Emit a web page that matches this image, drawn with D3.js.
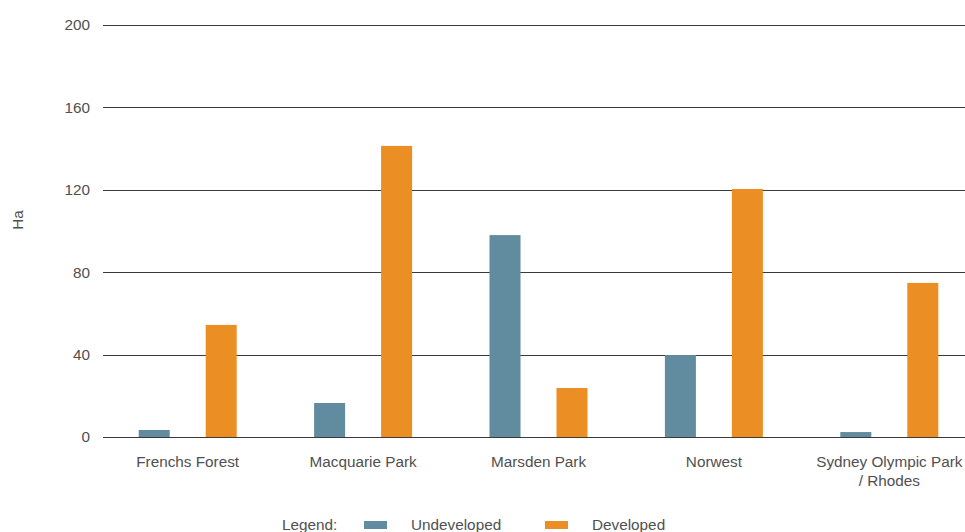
<!DOCTYPE html>
<html>
<head>
<meta charset="utf-8">
<script src="https://cdn.jsdelivr.net/npm/d3@7"></script>
<style>
  html, body { margin: 0; padding: 0; background: #fff; }
  svg { display: block; font-family: "Liberation Sans", Arial, sans-serif; }
</style>
</head>
<body>
<svg id="chart" width="965" height="532"></svg>
<script>
// Land area (hectares) by precinct
const categories = [
  ["Frenchs Forest"],
  ["Macquarie Park"],
  ["Marsden Park"],
  ["Norwest"],
  ["Sydney Olympic Park", "/ Rhodes"]
];
const seriesNames = ["Undeveloped", "Developed"];
const undeveloped = [3.4, 16.5, 98, 39.8, 2.4];
const developed = [54.4, 141.3, 23.8, 120.4, 74.8];
const yTicks = [0, 40, 80, 120, 160, 200];
const colors = ["#618b9f", "#eb8f24"];

const FONT_SIZE = 15.3;
const TEXT_COLOR = "#505050";

const svg = d3.select("#chart");
const gridLeft = 103, gridRight = 965;

const x = d3.scaleBand()
  .domain(categories.map((c, i) => i))
  .range([100, 977])
  .padding(0);

const y = d3.scaleLinear().domain([0, 200]).range([437, 25]);

const sub = d3.scaleBand()
  .domain(seriesNames)
  .range([-49, 49])
  .paddingInner(0.537)
  .paddingOuter(0);

// Horizontal gridlines
svg.append("g")
  .selectAll("line")
  .data(yTicks.filter(t => t !== 0))
  .join("line")
  .attr("x1", gridLeft).attr("x2", gridRight)
  .attr("y1", d => Math.round(y(d)) + 0.5)
  .attr("y2", d => Math.round(y(d)) + 0.5)
  .attr("stroke", "#3a3a3a")
  .attr("stroke-width", 1.2);

// Bars
const rows = categories.map((c, i) => ({ i, values: [undeveloped[i], developed[i]] }));
const groups = svg.append("g").selectAll("g")
  .data(rows)
  .join("g")
  .attr("transform", d => `translate(${x(d.i) + x.bandwidth() / 2},0)`);

groups.selectAll("rect")
  .data(d => d.values.map((v, k) => ({ k, v })))
  .join("rect")
  .attr("x", d => sub(seriesNames[d.k]))
  .attr("width", sub.bandwidth())
  .attr("y", d => y(d.v))
  .attr("height", d => y(0) - y(d.v))
  .attr("fill", d => colors[d.k]);

// Baseline
svg.append("line")
  .attr("x1", gridLeft).attr("x2", gridRight)
  .attr("y1", Math.round(y(0)) + 0.5).attr("y2", Math.round(y(0)) + 0.5)
  .attr("stroke", "#3a3a3a")
  .attr("stroke-width", 1.2);

// Y axis tick labels
const yAxis = d3.axisLeft(y).tickValues(yTicks).tickSize(0).tickPadding(0);
const yg = svg.append("g").attr("transform", "translate(90,0)").call(yAxis);
yg.select(".domain").remove();
yg.selectAll("text")
  .attr("font-family", "'Liberation Sans', Arial, sans-serif")
  .attr("font-size", FONT_SIZE)
  .attr("fill", TEXT_COLOR);

// Y axis title
svg.append("text")
  .attr("transform", "translate(23,220) rotate(-90)")
  .attr("text-anchor", "middle")
  .attr("font-size", FONT_SIZE)
  .attr("fill", TEXT_COLOR)
  .text("Ha");

// Category labels
const xl = svg.append("g");
categories.forEach((lines, i) => {
  const t = xl.append("text")
    .attr("x", x(i) + x.bandwidth() / 2)
    .attr("y", 467)
    .attr("text-anchor", "middle")
    .attr("font-size", FONT_SIZE)
    .attr("fill", TEXT_COLOR);
  lines.forEach((ln, j) => {
    t.append("tspan")
      .attr("x", x(i) + x.bandwidth() / 2)
      .attr("dy", j === 0 ? 0 : 19)
      .text(ln);
  });
});

// Legend
const legend = svg.append("g").attr("font-size", FONT_SIZE).attr("fill", TEXT_COLOR);
legend.append("text").attr("x", 282).attr("y", 530).text("Legend:");
const legendItems = [
  { name: seriesNames[0], sw: 364, tx: 411, color: colors[0] },
  { name: seriesNames[1], sw: 545, tx: 592, color: colors[1] }
];
legendItems.forEach(it => {
  legend.append("rect")
    .attr("x", it.sw).attr("y", 521)
    .attr("width", 23).attr("height", 8)
    .attr("fill", it.color);
  legend.append("text").attr("x", it.tx).attr("y", 530).text(it.name);
});
</script>
</body>
</html>
